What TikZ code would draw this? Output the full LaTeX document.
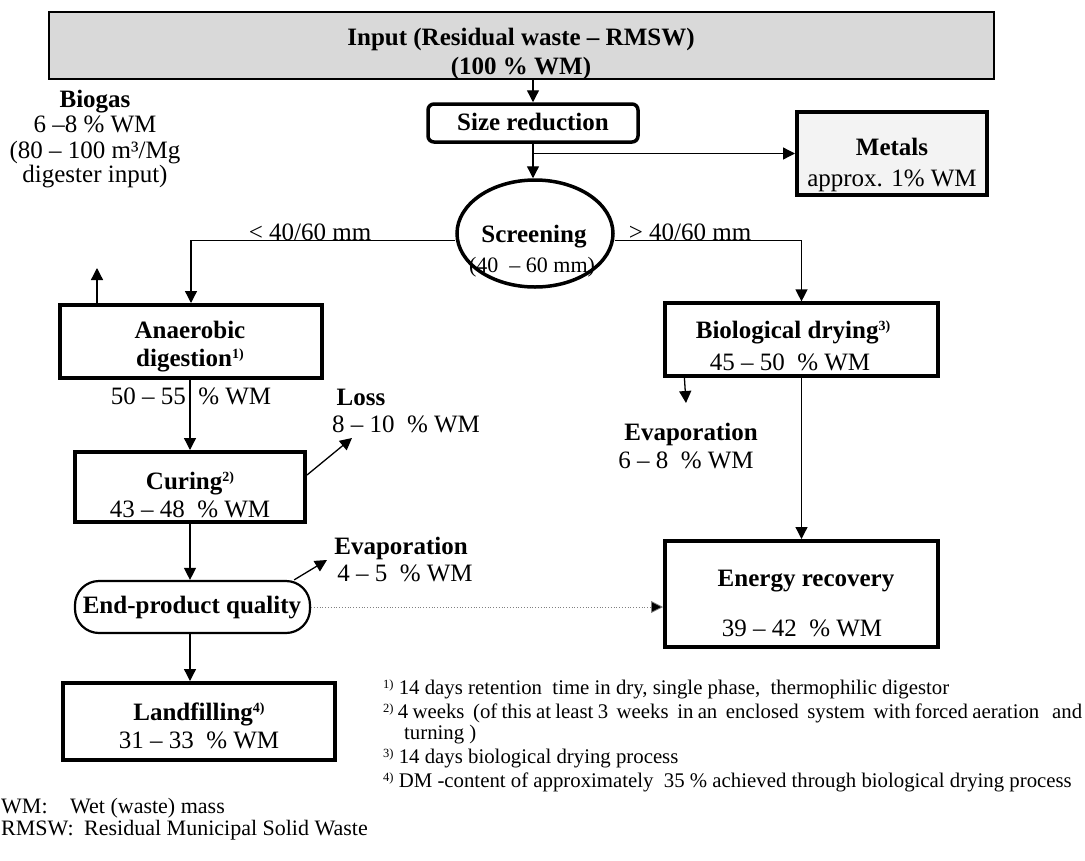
\documentclass[tikz,border=0pt]{standalone}
\usepackage{fontspec}
\setmainfont{Liberation Serif}
\usetikzlibrary{arrows.meta,shapes.geometric}
\definecolor{inputgray}{HTML}{D9D9D9}
\definecolor{metalgray}{HTML}{F3F3F3}
\newcommand\supn[1]{\raisebox{8pt}{\fontsize{14}{14}\selectfont #1)}}
\newcommand\fsup[1]{\raisebox{6pt}{\fontsize{12.5}{12.5}\selectfont #1)}}
\tikzset{
  conn/.style={line width=1.3pt, -{Triangle[length=12pt,width=12pt]}},
  txt/.style={font=\fontsize{25}{27}\selectfont, inner sep=0pt, anchor=base},
  btxt/.style={font=\fontsize{25}{27}\selectfont\bfseries, inner sep=0pt, anchor=base},
  procbox/.style={draw, line width=4pt, inner sep=0pt},
  fn/.style={font=\fontsize{20.8}{20.8}\selectfont, inner sep=0pt, anchor=base west},
  lg/.style={font=\fontsize{22}{22}\selectfont, inner sep=0pt, anchor=base west},
}
\begin{document}
\begin{tikzpicture}[x=1pt,y=-1pt]
\useasboundingbox (0,0) rectangle (1085,860);
% boxes
\node[draw, line width=1.5pt, fill=inputgray, minimum width=945pt, minimum height=67pt] (input) at (521.5,45.5) {};
\node[procbox, line width=3.5pt, rounded corners=6pt, minimum width=210pt, minimum height=38pt] (sizered) at (533,123) {};
\node[procbox, fill=metalgray, minimum width=190pt, minimum height=83pt] (metals) at (892,153.5) {};
\node[draw, ellipse, line width=3.5pt, minimum width=156pt, minimum height=107pt, inner sep=0pt] (screen) at (535,233.5) {};
\node[procbox, minimum width=262pt, minimum height=73pt] (anaer) at (191,341.5) {};
\node[procbox, minimum width=230pt, minimum height=70pt] (curing) at (190,487) {};
\node[draw, line width=2.2pt, rounded corners=24pt, minimum width=235pt, minimum height=52pt, inner sep=0pt] (endprod) at (192.5,607) {};
\node[procbox, minimum width=272pt, minimum height=77pt] (land) at (199,721.5) {};
\node[procbox, line width=3.2pt, minimum width=273pt, minimum height=73pt] (biod) at (801.5,339.5) {};
\node[procbox, minimum width=273pt, minimum height=106pt] (energy) at (801.5,594) {};
% texts in boxes
\node[btxt] (inputt1) at (521,45) {Input (Residual waste – RMSW)};
\node[btxt] (inputt2) at (521,74) {(100 \% WM)};
\node[btxt] (sizeredt) at (533,130) {Size reduction};
\node[btxt] (metalst1) at (892,155) {Metals};
\node[txt] (metalst2) at (892,186) {approx. 1\% WM};
\node[btxt] (screent1) at (534,242) {Screening};
\node[txt, font=\fontsize{22}{24}\selectfont] (screent2) at (532,272) {(40\ \ – 60 mm)};
\node[btxt] (anaert1) at (190,338) {Anaerobic};
\node[btxt] (anaert2) at (190,366) {digestion\supn{1}};
\node[btxt] (curingt1) at (190,489) {Curing\supn{2}};
\node[txt] (curingt2) at (190,517) {43 – 48\ \ \% WM};
\node[btxt] (endprodt) at (192,613) {End-product quality};
\node[btxt] (landt1) at (199,720) {Landfilling\supn{4}};
\node[txt] (landt2) at (199,748) {31 – 33\ \ \% WM};
\node[btxt] (biodt1) at (793,338) {Biological drying\supn{3}};
\node[txt] (biodt2) at (790,370) {45 – 50\ \ \% WM};
\node[btxt] (energyt1) at (806,586) {Energy recovery};
\node[txt] (energyt2) at (802,636) {39 – 42\ \ \% WM};
% free labels
\node[btxt] (biogas1) at (95,107) {Biogas};
\node[txt] (biogas2) at (95,132) {6 –8 \% WM};
\node[txt] (biogas3) at (95,158) {(80 – 100 m³/Mg};
\node[txt] (biogas4) at (95,182) {digester input)};
\node[txt] (lt) at (310,240) {< 40/60 mm};
\node[txt] (gt) at (690,240) {> 40/60 mm};
\node[txt] (adout) at (191,404) {50 – 55\ \ \% WM};
\node[btxt] (loss1) at (361,405) {Loss};
\node[txt] (loss2) at (406,432) {8 – 10\ \ \% WM};
\node[btxt] (evap1a) at (401,554) {Evaporation};
\node[txt] (evap1b) at (405,581) {4 – 5\ \ \% WM};
\node[btxt] (evap2a) at (691,440) {Evaporation};
\node[txt] (evap2b) at (686,468) {6 – 8\ \ \% WM};
% footnotes
\node[fn] (fn1) at (383,694) {\fsup{1} 14\ days retention\ \ time in\ dry, single phase,\ \ thermophilic digestor};
\node[fn] (fn2) at (383,718) {\makebox[699pt][s]{\fsup{2} 4 weeks\ \ (of this at least 3\ \ weeks\ \ in an\ \ enclosed\ \ system\ \ with forced aeration\ \ \ and}};
\node[fn] (fn2b) at (404,739) {turning )};
\node[fn] (fn3) at (383,763) {\fsup{3} 14\ days biological drying process};
\node[fn] (fn4) at (383,787) {\fsup{4} DM -content\ of approximately\ \ 35 \%\ achieved through biological drying process};
% legend
\node[lg] (lg1a) at (1,813) {WM:};
\node[lg] (lg1b) at (70,813) {Wet (waste) mass};
\node[lg] (lg2a) at (1,835) {RMSW:};
\node[lg] (lg2b) at (84,835) {Residual Municipal Solid Waste};
% free ends
\coordinate (biogasend) at (97,268);
\coordinate (lossend) at (352,438);
\coordinate (evap1end) at (327,560);
\coordinate (evap2end) at (686,403);
% connectors
\draw[conn] (sizered.north |- input.south) -- (sizered.north);
\draw[conn] (sizered.south) -- (sizered.south |- screen.north);
\draw[conn] (sizered.south |- metals.west) -- (metals.west);
\draw[conn] ([yshift=-7pt]screen.west) -| (anaer.north);
\draw[conn] ([yshift=-7pt]screen.east) -| (biod.north);
\draw[conn] ([xshift=-94pt]anaer.north) -- (biogasend);
\draw[conn] (anaer.south -| curing.north) -- (curing.north);
\draw[conn] ([yshift=12pt]curing.east) -- (lossend);
\draw[conn] (curing.south) -- (curing.south |- endprod.north);
\draw[conn] ([xshift=-17pt]endprod.north east) -- (evap1end);
\draw[conn] (endprod.south -| curing.south) -- (curing.south |- land.north);
\draw[line width=0.8pt, dotted, gray, -{Triangle[length=12pt,width=12pt,fill=black]}] (endprod.east) -- (endprod.east -| energy.west);
\draw[conn] ([xshift=21pt]biod.south west) -- (evap2end);
\draw[conn] (biod.south) -- (energy.north);
\end{tikzpicture}
\end{document}
